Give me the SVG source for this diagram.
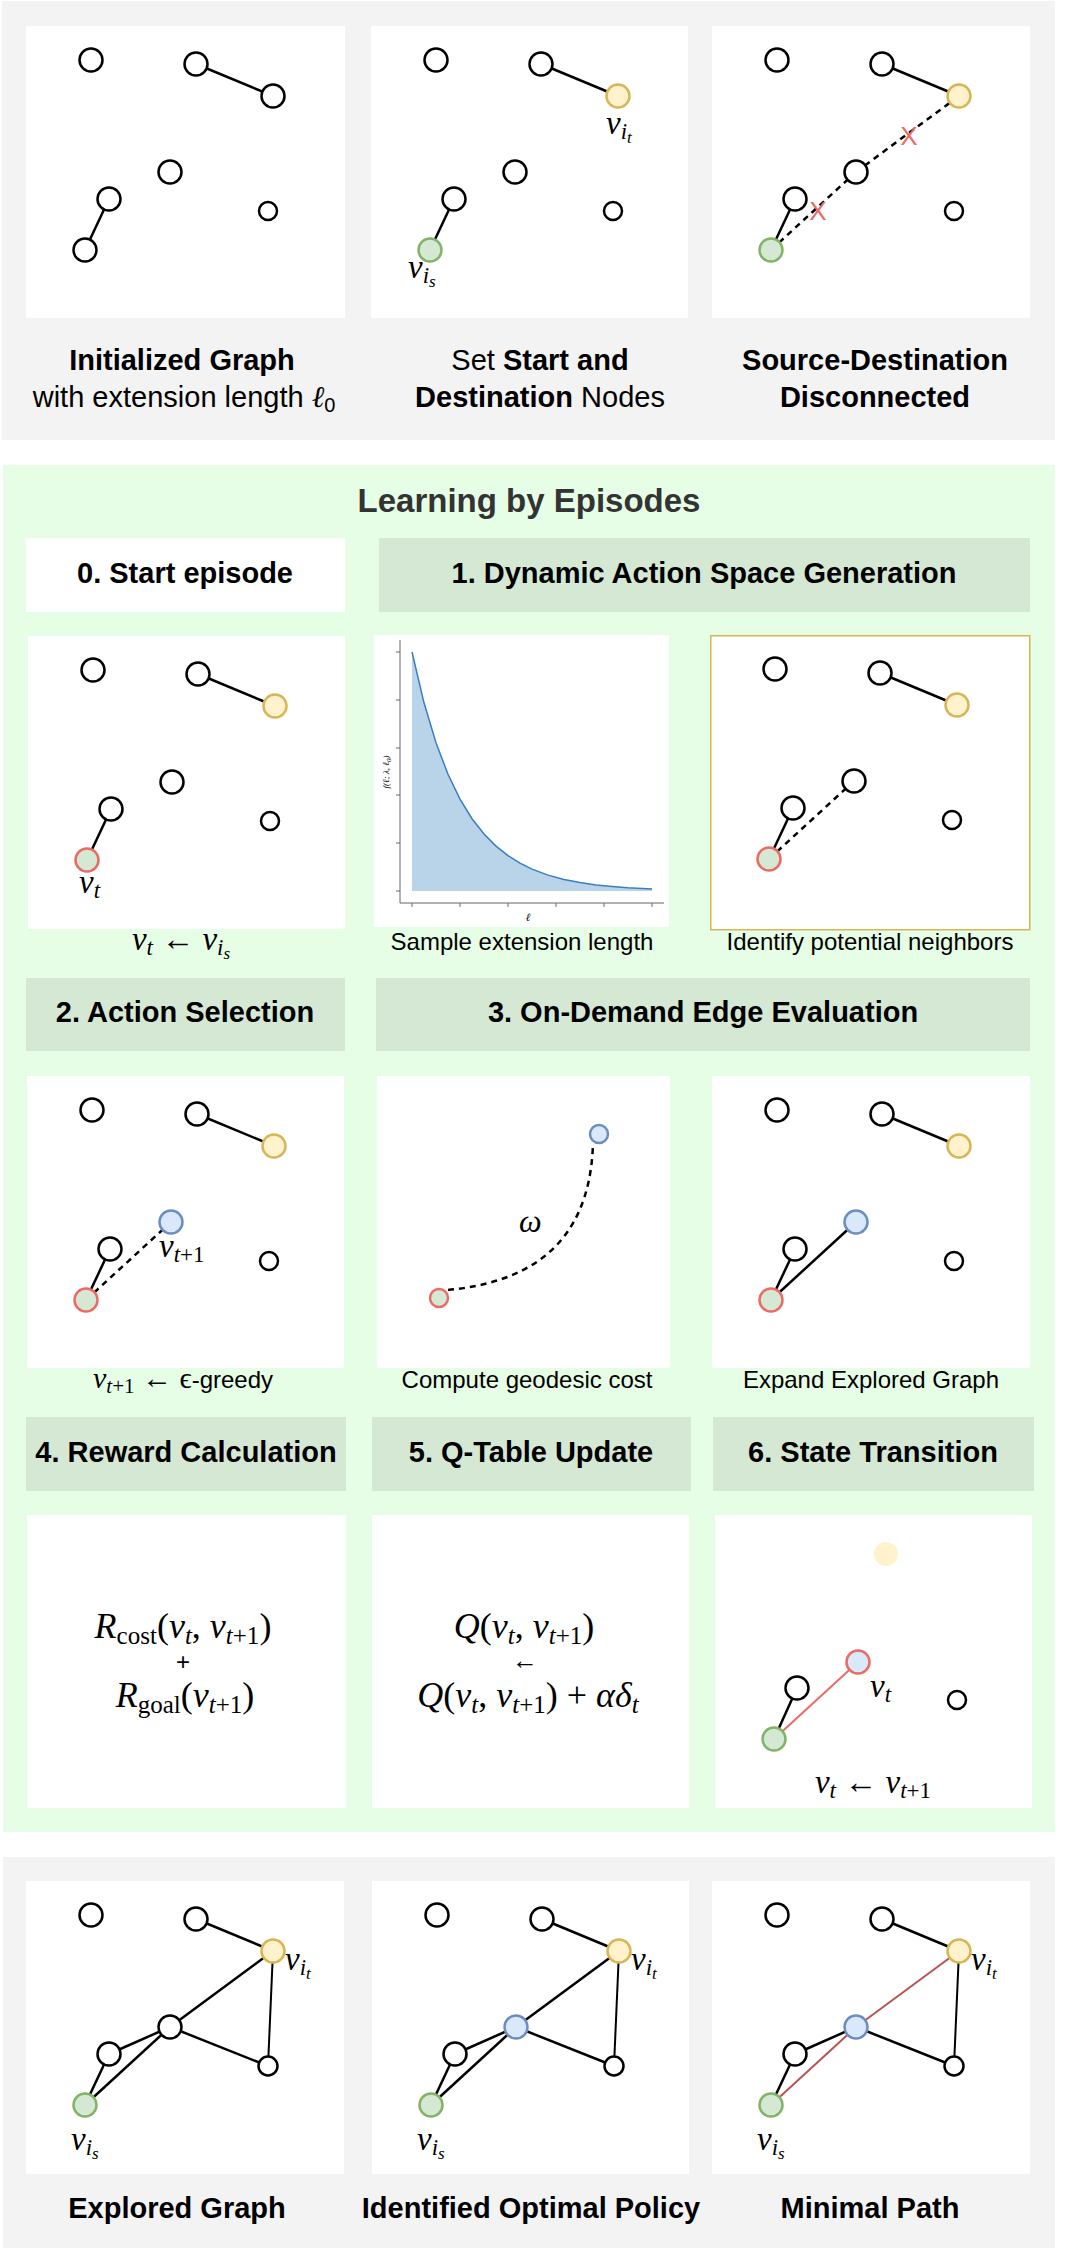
<svg xmlns="http://www.w3.org/2000/svg" width="1080" height="2251" viewBox="0 0 1080 2251">
<style>
.bg{fill:#fff}
.gp{fill:#f3f3f3}
.lp{fill:#e6fde6}
.wb{fill:#fff}
.hd{fill:#d5e8d4}
.n{fill:#fff;stroke:#000;stroke-width:2.5}
.ng{fill:#d5e8d4;stroke:#82b366;stroke-width:2.5}
.ny{fill:#fff2cc;stroke:#d6b656;stroke-width:2.5}
.nb{fill:#dae8fc;stroke:#6c8ebf;stroke-width:2.5}
.nr{fill:#d5e8d4;stroke:#ea6b66;stroke-width:2.5}
.nrb{fill:#dae8fc;stroke:#ea6b66;stroke-width:2.5}
.e{stroke:#000;stroke-width:2.5;fill:none}
.e2{stroke:#000;stroke-width:2;fill:none}
.ed{stroke:#000;stroke-width:2.5;fill:none;stroke-dasharray:6 5}
.er{stroke:#ea6b66;stroke-width:2;fill:none}
.ep{stroke:#b85450;stroke-width:2;fill:none}
.t{font-family:"Liberation Sans",Arial,Helvetica,sans-serif;text-anchor:middle;fill:#000}
.tb{font-family:"Liberation Sans",Arial,Helvetica,sans-serif;font-weight:bold;font-size:29px;text-anchor:middle;fill:#000}
.tc{font-family:"Liberation Sans",Arial,Helvetica,sans-serif;font-size:24px;text-anchor:middle;fill:#000}
.tt{font-family:"Liberation Sans",Arial,Helvetica,sans-serif;font-size:29px;text-anchor:middle;fill:#000}
.b{font-weight:bold}
.m{font-family:"Liberation Serif","DejaVu Serif",serif;font-style:italic;font-size:33px;fill:#000}
.eq{font-size:36px}
.mc{text-anchor:middle}
.s{font-size:23px}
.ss{font-size:17px}
.su{font-size:23px;font-style:normal}
.s2{font-size:25px}
.su2{font-size:25px;font-style:normal}
.u{font-style:normal}
.x{font-family:"Liberation Sans",Arial,sans-serif;font-size:26px;fill:#ea6b66;text-anchor:middle}
.ax{stroke:#666;stroke-width:1;fill:none}
</style>
<rect class="bg" x="0" y="0" width="1080" height="2251"/>

<!-- ============ TOP PANEL ============ -->
<g id="top-panel">
<rect class="gp" x="2" y="1" width="1053" height="439"/>
<rect class="wb" x="26" y="26" width="319" height="292"/>
<rect class="wb" x="371" y="26" width="317" height="292"/>
<rect class="wb" x="712" y="26" width="318" height="292"/>

<g id="init-graph" transform="translate(26,26)">
  <g id="init-graph-edges">
    <line class="e" x1="170" y1="38" x2="247" y2="70"/>
    <line class="e" x1="83" y1="173" x2="59" y2="224"/>
  </g>
  <g id="init-graph-nodes">
    <circle class="n" cx="65" cy="34" r="11.5"/>
    <circle class="n" cx="170" cy="38" r="11.5"/>
    <circle class="n" cx="247" cy="70" r="11.5"/>
    <circle class="n" cx="144" cy="146" r="11.5"/>
    <circle class="n" cx="83" cy="173" r="11.5"/>
    <circle class="n" cx="242" cy="185" r="9"/>
    <circle class="n" cx="59" cy="224" r="11.5"/>
  </g>
</g>

<g id="set-nodes" transform="translate(371,26)">
  <g id="set-nodes-edges">
    <line class="e" x1="170" y1="38" x2="247" y2="70"/>
    <line class="e" x1="83" y1="173" x2="59" y2="224"/>
  </g>
  <g id="set-nodes-nodes">
    <circle class="n" cx="65" cy="34" r="11.5"/>
    <circle class="n" cx="170" cy="38" r="11.5"/>
    <circle class="ny" cx="247" cy="70" r="11.5"/>
    <circle class="n" cx="144" cy="146" r="11.5"/>
    <circle class="n" cx="83" cy="173" r="11.5"/>
    <circle class="n" cx="242" cy="185" r="9"/>
    <circle class="ng" cx="59" cy="224" r="11.5"/>
  </g>
  <text class="m" x="235" y="108">v<tspan class="s" dy="5">i</tspan><tspan class="ss" dy="4">t</tspan></text>
  <text class="m" x="37" y="252">v<tspan class="s" dy="5">i</tspan><tspan class="ss" dy="4">s</tspan></text>
</g>

<g id="disconnected" transform="translate(712,26)">
  <g id="disconnected-edges">
    <line class="e" x1="170" y1="38" x2="247" y2="70"/>
    <line class="e" x1="83" y1="173" x2="59" y2="224"/>
    <line class="ed" x1="59" y1="224" x2="144" y2="146"/>
    <line class="ed" x1="144" y1="146" x2="247" y2="70"/>
  </g>
  <g id="disconnected-nodes">
    <circle class="n" cx="65" cy="34" r="11.5"/>
    <circle class="n" cx="170" cy="38" r="11.5"/>
    <circle class="ny" cx="247" cy="70" r="11.5"/>
    <circle class="n" cx="144" cy="146" r="11.5"/>
    <circle class="n" cx="83" cy="173" r="11.5"/>
    <circle class="n" cx="242" cy="185" r="9"/>
    <circle class="ng" cx="59" cy="224" r="11.5"/>
  </g>
  <text class="x" x="106" y="194">X</text>
  <text class="x" x="197" y="119">X</text>
</g>

<text class="tb" x="182" y="370">Initialized Graph</text>
<text class="tt" x="184" y="407">with extension length <tspan class="m" style="font-size:30px">ℓ</tspan><tspan font-size="20" dy="5">0</tspan></text>
<text class="tt" x="540" y="370">Set <tspan class="b">Start and</tspan></text>
<text class="tt" x="540" y="407"><tspan class="b">Destination</tspan> Nodes</text>
<text class="tb" x="875" y="370">Source-Destination</text>
<text class="tb" x="875" y="407">Disconnected</text>
</g>

<!-- ============ LEARNING PANEL ============ -->
<g id="learning-panel">
<rect class="lp" x="3" y="465" width="1052" height="1367"/>
<text class="t" x="529" y="512" style="font-size:33px;font-weight:bold;fill:#333">Learning by Episodes</text>

<!-- headers row 1 -->
<g id="h0"><rect class="wb" x="26" y="538" width="319" height="74"/><text class="tb" x="185" y="583">0. Start episode</text></g>
<g id="h1"><rect class="hd" x="379" y="538" width="651" height="74"/><text class="tb" x="704" y="583">1. Dynamic Action Space Generation</text></g>

<!-- row 2 -->
<rect class="wb" x="28" y="636" width="317" height="293"/>
<g id="start-episode" transform="translate(28,636)">
  <g id="start-episode-edges">
    <line class="e" x1="170" y1="38" x2="247" y2="70"/>
    <line class="e" x1="83" y1="173" x2="59" y2="224"/>
  </g>
  <g id="start-episode-nodes">
    <circle class="n" cx="65" cy="34" r="11.5"/>
    <circle class="n" cx="170" cy="38" r="11.5"/>
    <circle class="ny" cx="247" cy="70" r="11.5"/>
    <circle class="n" cx="144" cy="146" r="11.5"/>
    <circle class="n" cx="83" cy="173" r="11.5"/>
    <circle class="n" cx="242" cy="185" r="9"/>
    <circle class="nr" cx="59" cy="224" r="11.5"/>
  </g>
  <text class="m" x="51" y="257">v<tspan class="s" dy="5">t</tspan></text>
</g>

<g id="chart">
  <rect class="wb" x="374" y="635" width="295" height="292"/>
  <path d="M412,891 L412,652 L424,702.8 L436,742.8 L448,774.3 L460,799.1 L472,818.7 L484,834 L496,846.1 L508,855.7 L520,863.2 L532,869.1 L548,875.1 L564,879.4 L580,882.6 L596,884.9 L612,886.5 L628,887.8 L652,889 L652,891 Z" fill="#b9d4e8"/>
  <path d="M412,652 L424,702.8 L436,742.8 L448,774.3 L460,799.1 L472,818.7 L484,834 L496,846.1 L508,855.7 L520,863.2 L532,869.1 L548,875.1 L564,879.4 L580,882.6 L596,884.9 L612,886.5 L628,887.8 L652,889" fill="none" stroke="#3b7dbf" stroke-width="1.5"/>
  <path class="ax" d="M400,640 V903 H664"/>
  <path class="ax" d="M396,652 H400 M396,700 H400 M396,748 H400 M396,795 H400 M396,843 H400 M396,891 H400 M412,903 V907 M460,903 V907 M508,903 V907 M556,903 V907 M604,903 V907 M652,903 V907"/>
  <text class="m mc" x="528" y="921" style="font-size:11px">ℓ</text>
  <text class="m mc" x="0" y="0" style="font-size:9px" transform="translate(389,772) rotate(-90)">f(ℓ; λ, ℓ<tspan style="font-size:7px" dy="2">0</tspan><tspan dy="-2">)</tspan></text>
</g>

<rect x="710.75" y="635.75" width="319" height="294" fill="#fff" stroke="#d6b656" stroke-width="1.5"/>
<g id="potential-neighbors" transform="translate(710,635)">
  <g id="potential-neighbors-edges">
    <line class="e" x1="170" y1="38" x2="247" y2="70"/>
    <line class="e" x1="83" y1="173" x2="59" y2="224"/>
    <line class="ed" x1="59" y1="224" x2="144" y2="146"/>
  </g>
  <g id="potential-neighbors-nodes">
    <circle class="n" cx="65" cy="34" r="11.5"/>
    <circle class="n" cx="170" cy="38" r="11.5"/>
    <circle class="ny" cx="247" cy="70" r="11.5"/>
    <circle class="n" cx="144" cy="146" r="11.5"/>
    <circle class="n" cx="83" cy="173" r="11.5"/>
    <circle class="n" cx="242" cy="185" r="9"/>
    <circle class="nr" cx="59" cy="224" r="11.5"/>
  </g>
</g>

<text class="m mc" x="181" y="950">v<tspan class="s" dy="5">t</tspan><tspan class="u" dy="-5"> ← </tspan>v<tspan class="s" dy="5">i</tspan><tspan class="ss" dy="4">s</tspan></text>
<text class="tc" x="522" y="950">Sample extension length</text>
<text class="tc" x="870" y="950">Identify potential neighbors</text>

<!-- headers row 3 -->
<g id="h2"><rect class="hd" x="26" y="978" width="319" height="73"/><text class="tb" x="185" y="1022">2. Action Selection</text></g>
<g id="h3"><rect class="hd" x="376" y="978" width="654" height="73"/><text class="tb" x="703" y="1022">3. On-Demand Edge Evaluation</text></g>

<!-- row 3 -->
<rect class="wb" x="27" y="1076" width="317" height="292"/>
<g id="action-selection" transform="translate(27,1076)">
  <g id="action-selection-edges">
    <line class="e" x1="170" y1="38" x2="247" y2="70"/>
    <line class="e" x1="83" y1="173" x2="59" y2="224"/>
    <line class="ed" x1="59" y1="224" x2="144" y2="146"/>
  </g>
  <g id="action-selection-nodes">
    <circle class="n" cx="65" cy="34" r="11.5"/>
    <circle class="n" cx="170" cy="38" r="11.5"/>
    <circle class="ny" cx="247" cy="70" r="11.5"/>
    <circle class="nb" cx="144" cy="146" r="11.5"/>
    <circle class="n" cx="83" cy="173" r="11.5"/>
    <circle class="n" cx="242" cy="185" r="9"/>
    <circle class="nr" cx="59" cy="224" r="11.5"/>
  </g>
  <text class="m" x="132" y="181">v<tspan class="s" dy="5">t</tspan><tspan class="su">+1</tspan></text>
</g>

<rect class="wb" x="377" y="1076" width="293" height="292"/>
<g id="geodesic">
  <g id="geodesic-edges">
    <path class="ed" d="M448,1290 C520,1283 590,1252 593,1143"/>
  </g>
  <g id="geodesic-nodes">
    <circle class="nr" cx="439" cy="1298" r="9"/>
    <circle class="nb" cx="599" cy="1134" r="9"/>
  </g>
  <text class="m" x="519" y="1232" style="font-size:32px">ω</text>
</g>

<rect class="wb" x="712" y="1076" width="318" height="292"/>
<g id="expand-graph" transform="translate(712,1076)">
  <g id="expand-graph-edges">
    <line class="e" x1="170" y1="38" x2="247" y2="70"/>
    <line class="e" x1="83" y1="173" x2="59" y2="224"/>
    <line class="e" x1="59" y1="224" x2="144" y2="146"/>
  </g>
  <g id="expand-graph-nodes">
    <circle class="n" cx="65" cy="34" r="11.5"/>
    <circle class="n" cx="170" cy="38" r="11.5"/>
    <circle class="ny" cx="247" cy="70" r="11.5"/>
    <circle class="nb" cx="144" cy="146" r="11.5"/>
    <circle class="n" cx="83" cy="173" r="11.5"/>
    <circle class="n" cx="242" cy="185" r="9"/>
    <circle class="nr" cx="59" cy="224" r="11.5"/>
  </g>
</g>

<text class="tc" x="183" y="1388"><tspan class="m" style="font-size:30px">v<tspan class="s" style="font-size:21px" dy="5">t</tspan><tspan class="su" style="font-size:21px">+1</tspan><tspan class="u" dy="-5"> ← ϵ</tspan></tspan>-greedy</text>
<text class="tc" x="527" y="1388">Compute geodesic cost</text>
<text class="tc" x="871" y="1388">Expand Explored Graph</text>

<!-- headers row 4 -->
<g id="h4"><rect class="hd" x="26" y="1417" width="320" height="74"/><text class="tb" x="186" y="1462">4. Reward Calculation</text></g>
<g id="h5"><rect class="hd" x="372" y="1417" width="319" height="74"/><text class="tb" x="531" y="1462">5. Q-Table Update</text></g>
<g id="h6"><rect class="hd" x="713" y="1417" width="321" height="74"/><text class="tb" x="873" y="1462">6. State Transition</text></g>

<!-- row 4 -->
<g id="reward">
  <rect class="wb" x="27" y="1515" width="319" height="293"/>
  <text class="m eq mc" x="183" y="1638">R<tspan class="su2" dy="6">cost</tspan><tspan class="u" dy="-6">(</tspan>v<tspan class="s2" dy="6">t</tspan><tspan class="u" dy="-6">, </tspan>v<tspan class="s2" dy="6">t</tspan><tspan class="su2">+1</tspan><tspan class="u" dy="-6">)</tspan></text>
  <text class="t" x="183" y="1670" style="font-size:24px">+</text>
  <text class="m eq mc" x="185" y="1707">R<tspan class="su2" dy="6">goal</tspan><tspan class="u" dy="-6">(</tspan>v<tspan class="s2" dy="6">t</tspan><tspan class="su2">+1</tspan><tspan class="u" dy="-6">)</tspan></text>
</g>

<g id="q-update">
  <rect class="wb" x="372" y="1515" width="317" height="293"/>
  <text class="m eq mc" x="524" y="1638">Q<tspan class="u">(</tspan>v<tspan class="s2" dy="6">t</tspan><tspan class="u" dy="-6">, </tspan>v<tspan class="s2" dy="6">t</tspan><tspan class="su2">+1</tspan><tspan class="u" dy="-6">)</tspan></text>
  <text class="m mc u" x="525" y="1669" style="font-size:26px">←</text>
  <text class="m eq mc" x="528" y="1707">Q<tspan class="u">(</tspan>v<tspan class="s2" dy="6">t</tspan><tspan class="u" dy="-6">, </tspan>v<tspan class="s2" dy="6">t</tspan><tspan class="su2">+1</tspan><tspan class="u" dy="-6">) + </tspan>αδ<tspan class="s2" dy="6">t</tspan></text>
</g>

<rect class="wb" x="715" y="1515" width="317" height="293"/>
<g id="state-transition" transform="translate(715,1515)">
  <g id="state-transition-edges">
    <line class="e" x1="82" y1="173" x2="59" y2="224"/>
    <line class="er" x1="59" y1="224" x2="143" y2="147"/>
  </g>
  <g id="state-transition-nodes">
    <circle cx="171" cy="39" r="12" fill="#fff2cc"/>
    <circle class="nrb" cx="143" cy="147" r="11.5"/>
    <circle class="n" cx="82" cy="173" r="11.5"/>
    <circle class="n" cx="242" cy="185" r="9"/>
    <circle class="ng" cx="59" cy="224" r="11.5"/>
  </g>
  <text class="m" x="155" y="182">v<tspan class="s" dy="5">t</tspan></text>
  <text class="m mc" x="158" y="278">v<tspan class="s" dy="5">t</tspan><tspan class="u" dy="-5"> ← </tspan>v<tspan class="s" dy="5">t</tspan><tspan class="su">+1</tspan></text>
</g>
</g>

<!-- ============ BOTTOM PANEL ============ -->
<g id="bottom-panel">
<rect class="gp" x="3" y="1857" width="1052" height="391"/>
<rect class="wb" x="26" y="1881" width="318" height="293"/>
<rect class="wb" x="372" y="1881" width="317" height="293"/>
<rect class="wb" x="712" y="1881" width="318" height="293"/>

<g id="explored-graph" transform="translate(26,1881)">
  <g id="explored-graph-edges">
    <line class="e" x1="170" y1="38" x2="247" y2="70"/>
    <line class="e" x1="247" y1="70" x2="144" y2="146"/>
    <line class="e2" x1="247" y1="70" x2="242" y2="185"/>
    <line class="e" x1="144" y1="146" x2="242" y2="185"/>
    <line class="e" x1="144" y1="146" x2="83" y2="173"/>
    <line class="e" x1="144" y1="146" x2="59" y2="224"/>
    <line class="e" x1="83" y1="173" x2="59" y2="224"/>
  </g>
  <g id="explored-graph-nodes">
    <circle class="n" cx="65" cy="34" r="11.5"/>
    <circle class="n" cx="170" cy="38" r="11.5"/>
    <circle class="ny" cx="247" cy="70" r="11.5"/>
    <circle class="n" cx="144" cy="146" r="11.5"/>
    <circle class="n" cx="83" cy="173" r="11.5"/>
    <circle class="n" cx="242" cy="185" r="9.5"/>
    <circle class="ng" cx="59" cy="224" r="11.5"/>
  </g>
  <text class="m" x="259" y="89">v<tspan class="s" dy="5">i</tspan><tspan class="ss" dy="4">t</tspan></text>
  <text class="m" x="45" y="269">v<tspan class="s" dy="5">i</tspan><tspan class="ss" dy="4">s</tspan></text>
</g>

<g id="optimal-policy" transform="translate(372,1881)">
  <g id="optimal-policy-edges">
    <line class="e" x1="170" y1="38" x2="247" y2="70"/>
    <line class="e" x1="247" y1="70" x2="144" y2="146"/>
    <line class="e2" x1="247" y1="70" x2="242" y2="185"/>
    <line class="e" x1="144" y1="146" x2="242" y2="185"/>
    <line class="e" x1="144" y1="146" x2="83" y2="173"/>
    <line class="e" x1="144" y1="146" x2="59" y2="224"/>
    <line class="e" x1="83" y1="173" x2="59" y2="224"/>
  </g>
  <g id="optimal-policy-nodes">
    <circle class="n" cx="65" cy="34" r="11.5"/>
    <circle class="n" cx="170" cy="38" r="11.5"/>
    <circle class="ny" cx="247" cy="70" r="11.5"/>
    <circle class="nb" cx="144" cy="146" r="11.5"/>
    <circle class="n" cx="83" cy="173" r="11.5"/>
    <circle class="n" cx="242" cy="185" r="9.5"/>
    <circle class="ng" cx="59" cy="224" r="11.5"/>
  </g>
  <text class="m" x="259" y="89">v<tspan class="s" dy="5">i</tspan><tspan class="ss" dy="4">t</tspan></text>
  <text class="m" x="45" y="269">v<tspan class="s" dy="5">i</tspan><tspan class="ss" dy="4">s</tspan></text>
</g>

<g id="minimal-path" transform="translate(712,1881)">
  <g id="minimal-path-edges">
    <line class="e" x1="170" y1="38" x2="247" y2="70"/>
    <line class="ep" x1="247" y1="70" x2="144" y2="146"/>
    <line class="e2" x1="247" y1="70" x2="242" y2="185"/>
    <line class="e" x1="144" y1="146" x2="242" y2="185"/>
    <line class="e" x1="144" y1="146" x2="83" y2="173"/>
    <line class="ep" x1="144" y1="146" x2="59" y2="224"/>
    <line class="e" x1="83" y1="173" x2="59" y2="224"/>
  </g>
  <g id="minimal-path-nodes">
    <circle class="n" cx="65" cy="34" r="11.5"/>
    <circle class="n" cx="170" cy="38" r="11.5"/>
    <circle class="ny" cx="247" cy="70" r="11.5"/>
    <circle class="nb" cx="144" cy="146" r="11.5"/>
    <circle class="n" cx="83" cy="173" r="11.5"/>
    <circle class="n" cx="242" cy="185" r="9.5"/>
    <circle class="ng" cx="59" cy="224" r="11.5"/>
  </g>
  <text class="m" x="259" y="89">v<tspan class="s" dy="5">i</tspan><tspan class="ss" dy="4">t</tspan></text>
  <text class="m" x="45" y="269">v<tspan class="s" dy="5">i</tspan><tspan class="ss" dy="4">s</tspan></text>
</g>

<text class="tb" x="177" y="2218">Explored Graph</text>
<text class="tb" x="531" y="2218">Identified Optimal Policy</text>
<text class="tb" x="870" y="2218">Minimal Path</text>
</g>
</svg>
